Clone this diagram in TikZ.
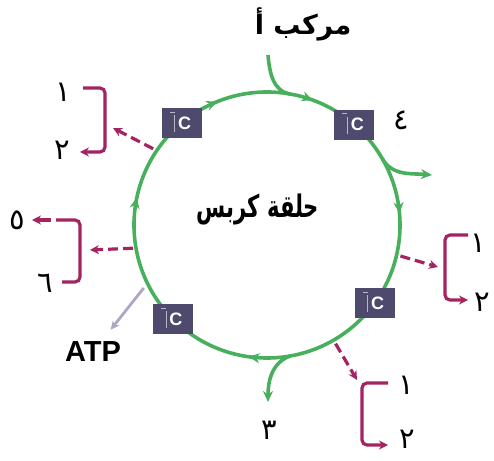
\documentclass[tikz,border=0pt]{standalone}
\usepackage{fontspec}
\setmainfont{Liberation Sans}
\newfontfamily\arabicfont[Script=Arabic]{DejaVu Sans}
\newfontfamily\arabiccond[Script=Arabic, FakeStretch=0.68]{DejaVu Sans}
\TeXXeTstate=1
\usetikzlibrary{arrows.meta, positioning, decorations.markings}

\definecolor{ringgreen}{RGB}{72,176,92}
\definecolor{rxnred}{RGB}{163,36,96}
\definecolor{boxblue}{RGB}{78,74,110}
\definecolor{atpgrey}{RGB}{176,166,196}

\newcommand{\artext}[1]{{\arabicfont\beginR #1\endR}}

\begin{document}
\begin{tikzpicture}[x=1pt, y=1pt,
    ring/.style={color=ringgreen, line width=3.6pt},
    gtip/.style={-{Stealth[length=11pt,width=10pt]}},
    cbox/.style={rectangle, fill=boxblue, minimum width=40pt, minimum height=30pt, inner sep=0pt,
      text=white, font=\bfseries\fontsize{18}{18}\selectfont,
      path picture={\draw[white!60!boxblue, line width=0.7pt]
        ([shift={(8pt,-4pt)}]path picture bounding box.north west) -- ++(5pt,0)
        ([shift={(13pt,-7pt)}]path picture bounding box.north west) -- ++(0,-17pt);}},
    rxn/.style={color=rxnred, line width=3.2pt, rounded corners=5pt},
    rtip/.style={-{Stealth[length=9pt,width=9pt]}},
    rdash/.style={color=rxnred, line width=3.2pt, dash pattern=on 10pt off 5pt},
    num/.style={font=\fontsize{29}{29}\selectfont},
    lbl/.style={font=\bfseries\fontsize{27}{30}\selectfont}]

  \useasboundingbox (0,0) rectangle (494,460);

  % the cycle
  \node[circle, minimum size=266pt, inner sep=0pt, outer sep=0pt] (cyc) at (267,235) {};
  \draw[ring, postaction={decorate, decoration={markings,
      mark=at position 0.014 with {\arrowreversed{Stealth[length=11pt,width=10pt]}},
      mark=at position 0.194 with {\arrowreversed{Stealth[length=11pt,width=10pt]}},
      mark=at position 0.311 with {\arrowreversed{Stealth[length=11pt,width=10pt]}},
      mark=at position 0.467 with {\arrowreversed{Stealth[length=11pt,width=10pt]}},
      mark=at position 0.728 with {\arrowreversed{Stealth[length=11pt,width=10pt]}}}}]
    (cyc.center) circle[radius=133pt];
  \node[lbl, font=\bfseries\fontsize{31}{34}\selectfont] (krebs) at (258,250) {{\arabiccond\beginR حلقة كربس\endR}};

  \node[cbox] (tl) at (cyc.130) {\hspace{6pt}C};
  \node[cbox] (tr) at (cyc.49) {\hspace{6pt}C};
  \node[cbox] (br) at (cyc.-36) {\hspace{6pt}C};
  \node[cbox] (bl) at (cyc.225) {\hspace{6pt}C};

  % input and outputs
  \node[lbl] (cmpA) at (303,436) {\artext{مركب أ}};
  \coordinate (inA) at (268,405);
  \draw[ring] (inA) to[out=-85, in=170] (cyc.80);

  \coordinate (out4) at (432,285);
  \draw[ring, gtip] (cyc.30) to[out=-60, in=175] (out4);
  \node[num] (n4) at (401,340) {\artext{٤}};

  \coordinate (out3) at (268,58);
  \draw[ring, gtip] (cyc.280) to[out=200, in=90] (out3);
  \node[num] (n3) at (269,30) {\artext{٣}};

  \node[font=\bfseries\fontsize{29}{29}\selectfont] (atp) at (93,108) {ATP};
  \draw[atpgrey, line width=2.8pt, -{Stealth[length=9pt,width=8pt]}, shorten <=6pt, shorten >=11pt] (cyc.206) -- (atp);

  % top left bracket
  \coordinate (b1t) at (83,372);
  \coordinate (b1b) at (80,308);
  \coordinate (b1m) at (113,332);
  \draw[rxn, rtip] (b1t) -- ++(22,0) |- (b1b);
  \draw[rdash, rtip, shorten <=4pt] (cyc.146) -- (b1m);
  \node[num] (n1a) at (63,368) {\artext{١}};
  \node[num] (n1b) at (62,310) {\artext{٢}};

  % left bracket
  \coordinate (b2b) at (62,178);
  \coordinate (b2g) at (56,240);
  \coordinate (b2t) at (32,240);
  \coordinate (b2m) at (90,210);
  \draw[rxn] (b2b) -- ++(18,0) |- (b2g);
  \draw[rxn, rtip] ([xshift=-5pt]b2g) -- (b2t);
  \draw[rdash, rtip, shorten <=3pt] (cyc.190) -- (b2m);
  \node[num] (n5) at (17,240) {\artext{٥}};
  \node[num] (n6) at (45,177) {\artext{٦}};

  % right bracket
  \coordinate (b3t) at (468,225);
  \coordinate (b3b) at (468,160);
  \coordinate (b3m) at (438,193);
  \draw[rxn, rtip] (b3t) -- ++(-23,0) |- (b3b);
  \draw[rdash, rtip, shorten <=4pt] (cyc.-13) -- (b3m);
  \node[num] (n3a) at (478,217) {\artext{١}};
  \node[num] (n3b) at (482,158) {\artext{٢}};

  % bottom right bracket
  \coordinate (b4t) at (388,77);
  \coordinate (b4b) at (388,15);
  \coordinate (b4m) at (357,80);
  \draw[rxn, rtip] (b4t) -- ++(-26,0) |- (b4b);
  \draw[rdash, rtip, shorten <=4pt] (cyc.-60) -- (b4m);
  \node[num] (n4a) at (406,75) {\artext{١}};
  \node[num] (n4b) at (407,21) {\artext{٢}};

\end{tikzpicture}
\end{document}
